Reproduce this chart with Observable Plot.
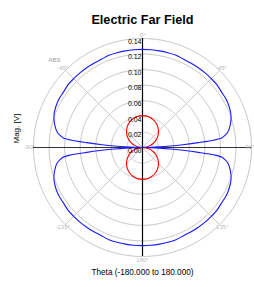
<!DOCTYPE html>
<html><head><meta charset="utf-8">
<script src="https://cdn.jsdelivr.net/npm/d3@7"></script>
<script src="https://cdn.jsdelivr.net/npm/@observablehq/plot@0.6"></script>
<style>
body{margin:0;background:#fff;}
#wrap{width:254px;height:287px;overflow:hidden;}
</style></head><body><div id="wrap"></div>
<script>
// polar angle theta in degrees (0 = top, clockwise positive)
const theta = [-180,-175,-170,-165,-160,-155,-150,-145,-140,-135,-130,-125,-120,-115,-110,-105,-100,-98,-97,-96,-95,-94,-93,-92,-91,
 -90,-89,-88,-87,-86,-85,-84,-83,-82,-80,-75,-70,-65,-60,-55,-50,-45,-40,-35,-30,-25,-20,-15,-10,-5,
 0,5,10,15,20,25,30,35,40,45,50,55,60,65,70,75,80,82,83,84,85,86,87,88,89,
 90,91,92,93,94,95,96,97,98,100,105,110,115,120,125,130,135,140,145,150,155,160,165,170,175,180];
const blueMag = [.126,.126,.126,.126,.126,.125,.125,.125,.125,.125,.125,.124,.124,.123,.121,.117,.111,.106,.103,.093,.072,.052,.036,.022,.010,
 0,.010,.022,.036,.052,.072,.093,.103,.106,.111,.117,.121,.123,.124,.124,.125,.125,.125,.125,.125,.125,.126,.126,.126,.126,
 .126,.126,.126,.126,.126,.125,.125,.125,.125,.125,.125,.124,.124,.123,.121,.117,.111,.106,.103,.093,.072,.052,.036,.022,.010,
 0,.010,.022,.036,.052,.072,.093,.103,.106,.111,.117,.121,.123,.124,.124,.125,.125,.125,.125,.125,.125,.126,.126,.126,.126,.126];
const redMag = [.041,.0408,.0404,.0396,.0385,.0372,.0355,.0336,.0314,.029,.0264,.0235,.0205,.0173,.014,.0106,.0071,.0057,.005,.0043,.0036,.0029,.0021,.0014,.0007,
 0,.0007,.0014,.0021,.0029,.0036,.0043,.005,.0057,.0071,.0106,.014,.0173,.0205,.0235,.0264,.029,.0314,.0336,.0355,.0372,.0385,.0396,.0404,.0408,
 .041,.0408,.0404,.0396,.0385,.0372,.0355,.0336,.0314,.029,.0264,.0235,.0205,.0173,.014,.0106,.0071,.0057,.005,.0043,.0036,.0029,.0021,.0014,.0007,
 0,.0007,.0014,.0021,.0029,.0036,.0043,.005,.0057,.0071,.0106,.014,.0173,.0205,.0235,.0264,.029,.0314,.0336,.0355,.0372,.0385,.0396,.0404,.0408,.041];

const ringValues = [0.02,0.04,0.06,0.08,0.10,0.12,0.14];
const ringTickValues = [0,0.02,0.04,0.06,0.08,0.10,0.12,0.14];
const ringTickLabels = ["0.00","0.02","0.04","0.06","0.08","0.10","0.12","0.14"];
const spokeAngles = [45,135,-45,-135];
const angleLabelTheta = [0,45,90,135,180,-135,-90,-45];
const angleLabels = ["0°","45°","90°","135°","180°","-135°","-90°","-45°"];
const rMax = 0.14;

const rad = d => d * Math.PI / 180;
const px = (r, t) => r * Math.sin(rad(t));
const py = (r, t) => r * Math.cos(rad(t));

const ringPts = ringValues.flatMap(r => d3.range(0, 361, 2).map(t => ({r, t})));
const blue = theta.map((t, i) => ({t, r: blueMag[i]}));
const red = theta.map((t, i) => ({t, r: redMag[i]}));
const angLab = angleLabelTheta.map((t, i) => ({t, label: angleLabels[i]}));

const chart = Plot.plot({
  width: 254, height: 287,
  marginLeft: 33, marginRight: 3, marginTop: 38, marginBottom: 31,
  x: {domain: [-rMax, rMax], axis: null},
  y: {domain: [-rMax, rMax], axis: null},
  style: {background: "#fff", fontFamily: "'Liberation Sans', Arial, sans-serif", overflow: "visible"},
  marks: [
    Plot.line(ringPts, {x: d => px(d.r, d.t), y: d => py(d.r, d.t), z: "r", stroke: "#c8c8c8", strokeWidth: 1}),
    Plot.link(spokeAngles, {x1: 0, y1: 0, x2: t => px(rMax, t), y2: t => py(rMax, t), stroke: "#c8c8c8", strokeWidth: 1}),
    Plot.ruleY([0], {x1: -rMax, x2: rMax, stroke: "#333", strokeWidth: 1.2}),
    Plot.ruleX([0], {y1: -rMax, y2: rMax, stroke: "#000", strokeWidth: 1.2}),
    Plot.line(red, {x: d => px(d.r, d.t), y: d => py(d.r, d.t), stroke: "#ff0000", strokeWidth: 1.1, curve: "catmull-rom"}),
    Plot.line(blue, {x: d => px(d.r, d.t), y: d => py(d.r, d.t), stroke: "#1a1aff", strokeWidth: 1.1, curve: "catmull-rom"}),
    Plot.text(ringTickValues, {x: 0, y: d => d, text: (d, i) => ringTickLabels[i], textAnchor: "end", dx: -1, dy: 3, fontSize: 7, fill: "#000"}),
    Plot.text(angLab.filter(d => d.t !== 90), {x: d => px(0.145, d.t), y: d => py(0.145, d.t), text: "label", fontSize: 6, fill: "#bbb"}),
    Plot.text(angLab.filter(d => d.t === 90), {x: d => px(0.145, d.t), y: d => py(0.145, d.t), text: "label", textAnchor: "end", dx: -1, fontSize: 6, fill: "#bbb"}),
    Plot.text(["Electric Far Field"], {frameAnchor: "top", dy: -23.5, fontSize: 12.7, fontWeight: "bold", fill: "#000"}),
    Plot.text(["Theta (-180.000 to 180.000)"], {frameAnchor: "bottom", dy: 18, fontSize: 8.2, fill: "#000"}),
    Plot.text(["Mag. [V]"], {frameAnchor: "left", dx: -17, dy: -4, rotate: -90, fontSize: 8, fill: "#000"}),
    Plot.text(["ABS"], {frameAnchor: "top-left", dx: 15, dy: 19, fontSize: 6, fill: "#999"})
  ]
});
document.getElementById("wrap").appendChild(chart);
</script></body></html>
